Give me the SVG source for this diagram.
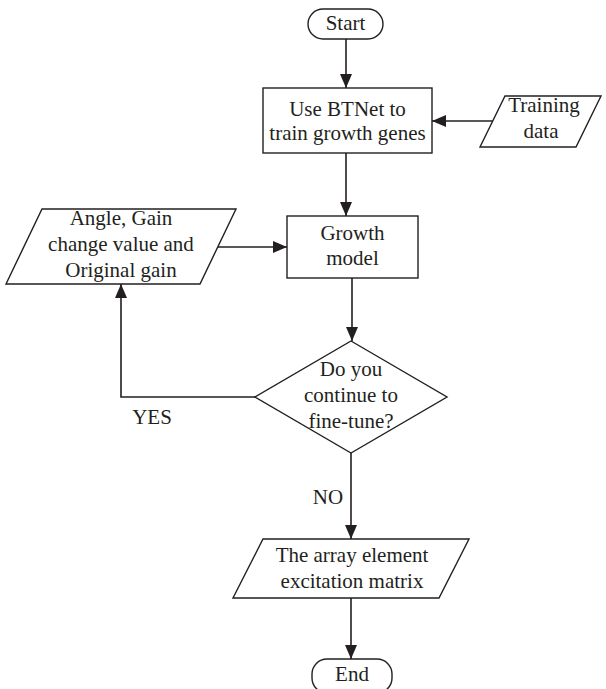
<svg xmlns="http://www.w3.org/2000/svg" width="606" height="689" viewBox="0 0 606 689">
<defs>
<style>
.shape{fill:#fff;stroke:#231f20;stroke-width:1.4}
.conn{fill:none;stroke:#231f20;stroke-width:1.6}
text{font-family:"Liberation Serif","Times New Roman",serif;font-size:21px;fill:#231f20;text-anchor:middle}
</style>
<marker id="ah" viewBox="0 0 14 12" refX="14" refY="6" markerWidth="14" markerHeight="12" markerUnits="userSpaceOnUse" orient="auto">
<path d="M0,0 L14,6 L0,12 Z" fill="#231f20"/>
</marker>
</defs>
<rect width="606" height="689" fill="#fff"/>
<g id="connectors">
<line class="conn" x1="346" y1="39" x2="346" y2="88" marker-end="url(#ah)"/>
<line class="conn" x1="493" y1="121" x2="432" y2="121" marker-end="url(#ah)"/>
<line class="conn" x1="346" y1="153" x2="346" y2="216" marker-end="url(#ah)"/>
<line class="conn" x1="218" y1="247" x2="287" y2="247" marker-end="url(#ah)"/>
<line class="conn" x1="352" y1="278" x2="352" y2="341" marker-end="url(#ah)"/>
<polyline class="conn" points="255,397 121,397 121,284" marker-end="url(#ah)"/>
<line class="conn" x1="351" y1="453" x2="351" y2="539" marker-end="url(#ah)"/>
<line class="conn" x1="351" y1="598" x2="351" y2="659" marker-end="url(#ah)"/>
<text x="152" y="424">YES</text>
<text x="328" y="504">NO</text>
</g>
<g id="start">
<rect class="shape" x="308" y="9" width="75" height="30" rx="15"/>
<text x="345.5" y="30">Start</text>
</g>
<g id="btnet">
<rect class="shape" x="263" y="88" width="169" height="65"/>
<text x="347.5" y="116">Use BTNet to</text>
<text x="347.5" y="140">train growth genes</text>
</g>
<g id="training">
<polygon class="shape" points="505,96 601,96 576,147 480,147"/>
<text x="544" y="112">Training</text>
<text x="541" y="138">data</text>
</g>
<g id="params">
<polygon class="shape" points="42,209 236,209 200,284 6,284"/>
<text x="121" y="225">Angle, Gain</text>
<text x="121" y="251">change value and</text>
<text x="121" y="277">Original gain</text>
</g>
<g id="growth">
<rect class="shape" x="287" y="216" width="131" height="62"/>
<text x="352.5" y="240">Growth</text>
<text x="352.5" y="265">model</text>
</g>
<g id="decision">
<polygon class="shape" points="351,341 447,397 351,453 255,397"/>
<text x="351" y="376">Do you</text>
<text x="351" y="402">continue to</text>
<text x="351" y="428">fine-tune?</text>
</g>
<g id="matrix">
<polygon class="shape" points="263,539 469,539 439,598 233,598"/>
<text x="352" y="562">The array element</text>
<text x="352" y="588">excitation matrix</text>
</g>
<g id="end">
<rect class="shape" x="312" y="659" width="80" height="34" rx="15"/>
<text x="352" y="681">End</text>
</g>
</svg>
